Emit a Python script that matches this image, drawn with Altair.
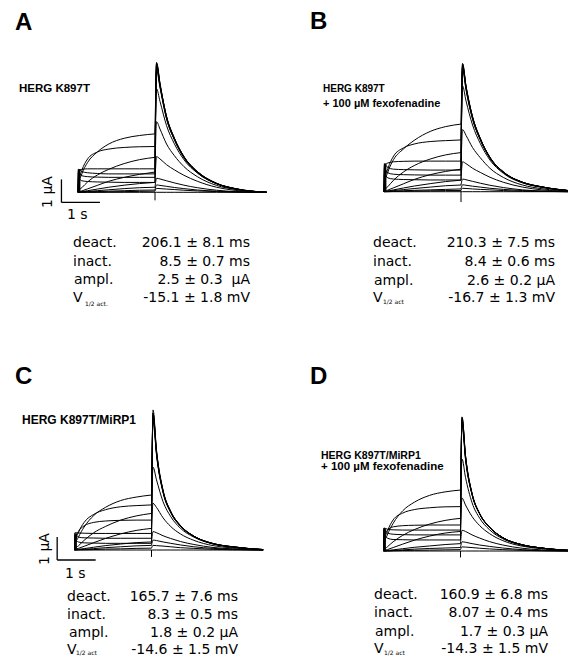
import altair as alt
import pandas as pd

# ---------------- data ----------------
# time grid (s) of the depolarising step and of the tail
STEP_T = [0, 0.01, 0.1, 0.25, 0.5, 0.8, 1.2, 1.6, 2.0]
TAIL_T = [2.0, 2.04, 2.13, 2.3, 2.5, 2.75, 3.1, 3.6, 4.1, 4.9]

# current (µA) of each sweep during the step
A_STEP = [
    [0, 0.60, 0.50, 0.47, 0.45, 0.44, 0.43, 0.43, 0.43],
    [0, 0.85, 0.72, 0.68, 0.66, 0.65, 0.65, 0.65, 0.65],
    [0, 1.00, 0.90, 0.85, 0.82, 0.80, 0.80, 0.80, 0.80],
    [0, 0.95, 1.00, 1.02, 1.02, 1.02, 1.02, 1.02, 1.02],
    [0, 0.40, 0.95, 1.45, 1.75, 1.88, 1.95, 1.98, 1.99],
    [0, 0.30, 0.80, 1.30, 1.75, 2.10, 2.35, 2.47, 2.54],
    [0, 0.05, 0.20, 0.45, 0.75, 1.00, 1.25, 1.42, 1.52],
    [0, 0.02, 0.06, 0.15, 0.30, 0.48, 0.65, 0.78, 0.88],
    [0, 0.01, 0.03, 0.07, 0.14, 0.22, 0.31, 0.38, 0.43],
    [0, 0.01, 0.02, 0.04, 0.07, 0.11, 0.16, 0.20, 0.22],
    [0, 0.00, 0.01, 0.02, 0.03, 0.05, 0.07, 0.09, 0.10],
    [0, 0.00, 0.00, 0.01, 0.01, 0.02, 0.03, 0.04, 0.05],
    [0, 0, 0, 0, 0, 0, 0, 0, 0],
]
A_TAIL = [
    [0.43, 5.45, 4.60, 3.20, 2.30, 1.50, 0.85, 0.37, 0.14, 0],
    [0.65, 5.60, 4.70, 3.28, 2.35, 1.55, 0.88, 0.38, 0.15, 0],
    [0.80, 5.65, 4.74, 3.29, 2.36, 1.55, 0.90, 0.39, 0.15, 0],
    [1.02, 5.60, 4.70, 3.30, 2.37, 1.56, 0.90, 0.39, 0.16, 0],
    [1.99, 5.50, 4.65, 3.25, 2.33, 1.54, 0.90, 0.39, 0.15, 0],
    [2.54, 5.30, 4.55, 3.20, 2.30, 1.52, 0.88, 0.38, 0.15, 0],
    [1.52, 4.50, 3.95, 2.90, 2.12, 1.42, 0.84, 0.37, 0.14, 0],
    [0.88, 3.07, 2.75, 2.10, 1.60, 1.12, 0.68, 0.30, 0.12, 0],
    [0.43, 1.55, 1.45, 1.20, 0.98, 0.74, 0.48, 0.22, 0.08, 0],
    [0.22, 0.61, 0.58, 0.50, 0.41, 0.31, 0.20, 0.09, 0.03, 0],
    [0.10, 0.32, 0.30, 0.26, 0.21, 0.16, 0.10, 0.05, 0.02, 0],
    [0.05, 0.17, 0.16, 0.14, 0.12, 0.09, 0.06, 0.03, 0.01, 0],
    [0, 0, 0, 0, 0, 0, 0, 0, 0, 0],
]

B_STEP = [
    [0, 0.75, 0.60, 0.55, 0.53, 0.52, 0.51, 0.51, 0.51],
    [0, 1.00, 0.82, 0.76, 0.74, 0.73, 0.72, 0.72, 0.72],
    [0, 1.20, 1.05, 0.98, 0.96, 0.95, 0.94, 0.94, 0.94],
    [0, 1.10, 1.25, 1.30, 1.32, 1.33, 1.33, 1.33, 1.33],
    [0, 0.45, 1.00, 1.55, 1.90, 2.08, 2.18, 2.22, 2.25],
    [0, 0.30, 0.85, 1.40, 1.85, 2.25, 2.62, 2.83, 2.94],
    [0, 0.05, 0.22, 0.50, 0.85, 1.15, 1.42, 1.60, 1.70],
    [0, 0.02, 0.07, 0.17, 0.34, 0.54, 0.74, 0.88, 0.98],
    [0, 0.01, 0.03, 0.08, 0.16, 0.25, 0.35, 0.44, 0.50],
    [0, 0.01, 0.02, 0.05, 0.09, 0.14, 0.20, 0.26, 0.29],
    [0, 0.00, 0.01, 0.02, 0.04, 0.06, 0.08, 0.10, 0.12],
    [0, 0.00, 0.00, 0.01, 0.02, 0.03, 0.04, 0.05, 0.05],
    [0, 0, 0, 0, 0, 0, 0, 0, 0],
]
B_TAIL = [
    [0.51, 5.40, 4.45, 3.15, 2.25, 1.46, 0.84, 0.40, 0.20, 0.03],
    [0.72, 5.50, 4.55, 3.22, 2.30, 1.48, 0.85, 0.41, 0.21, 0.03],
    [0.94, 5.58, 4.60, 3.26, 2.32, 1.50, 0.86, 0.41, 0.21, 0.03],
    [1.33, 5.55, 4.60, 3.26, 2.32, 1.50, 0.86, 0.41, 0.21, 0.03],
    [2.25, 5.45, 4.55, 3.24, 2.30, 1.49, 0.86, 0.41, 0.21, 0.03],
    [2.94, 5.30, 4.45, 3.18, 2.27, 1.47, 0.85, 0.40, 0.20, 0.03],
    [1.70, 4.60, 3.95, 2.90, 2.10, 1.38, 0.80, 0.38, 0.19, 0.03],
    [0.98, 2.70, 2.45, 1.92, 1.48, 1.02, 0.62, 0.29, 0.13, 0.02],
    [0.50, 1.30, 1.22, 1.02, 0.84, 0.63, 0.41, 0.20, 0.08, 0.01],
    [0.29, 0.55, 0.52, 0.45, 0.37, 0.28, 0.18, 0.08, 0.03, 0],
    [0.12, 0.30, 0.28, 0.24, 0.20, 0.15, 0.10, 0.05, 0.02, 0],
    [0.05, 0.15, 0.14, 0.12, 0.10, 0.08, 0.05, 0.02, 0.01, 0],
    [0, 0, 0, 0, 0, 0, 0, 0, 0, 0],
]

C_STEP = [
    [0, 0.45, 0.35, 0.31, 0.30, 0.29, 0.29, 0.29, 0.29],
    [0, 0.65, 0.56, 0.53, 0.52, 0.51, 0.51, 0.51, 0.51],
    [0, 0.75, 0.74, 0.73, 0.72, 0.72, 0.72, 0.72, 0.72],
    [0, 0.45, 0.80, 1.05, 1.20, 1.26, 1.29, 1.30, 1.30],
    [0, 0.30, 0.75, 1.20, 1.55, 1.75, 1.88, 1.93, 1.96],
    [0, 0.20, 0.55, 1.00, 1.50, 1.85, 2.15, 2.30, 2.39],
    [0, 0.05, 0.18, 0.42, 0.75, 1.02, 1.30, 1.48, 1.59],
    [0, 0.02, 0.07, 0.16, 0.32, 0.50, 0.70, 0.85, 0.94],
    [0, 0.01, 0.03, 0.06, 0.12, 0.19, 0.26, 0.32, 0.35],
    [0, 0.00, 0.01, 0.03, 0.06, 0.10, 0.14, 0.18, 0.20],
    [0, 0.00, 0.01, 0.01, 0.02, 0.04, 0.05, 0.07, 0.08],
    [0, 0, 0, 0, 0, 0, 0, 0, 0],
]
C_TAIL = [
    [0.29, 5.80, 4.15, 2.50, 1.62, 1.03, 0.59, 0.27, 0.13, 0.01],
    [0.51, 5.95, 4.25, 2.55, 1.65, 1.05, 0.60, 0.27, 0.13, 0.01],
    [0.72, 6.09, 4.35, 2.60, 1.68, 1.07, 0.60, 0.28, 0.14, 0.02],
    [1.30, 5.95, 4.30, 2.58, 1.67, 1.06, 0.60, 0.28, 0.14, 0.02],
    [1.96, 5.85, 4.25, 2.56, 1.66, 1.06, 0.60, 0.28, 0.14, 0.02],
    [2.39, 5.60, 4.15, 2.52, 1.64, 1.05, 0.60, 0.28, 0.14, 0.02],
    [1.59, 3.60, 3.05, 2.10, 1.45, 0.95, 0.56, 0.26, 0.13, 0.01],
    [0.94, 2.03, 1.85, 1.40, 1.02, 0.70, 0.42, 0.19, 0.09, 0.01],
    [0.35, 0.80, 0.75, 0.62, 0.50, 0.37, 0.24, 0.11, 0.05, 0],
    [0.20, 0.43, 0.41, 0.35, 0.29, 0.22, 0.14, 0.07, 0.03, 0],
    [0.08, 0.20, 0.19, 0.17, 0.14, 0.10, 0.07, 0.03, 0.01, 0],
    [0, 0, 0, 0, 0, 0, 0, 0, 0, 0],
]

D_STEP = [
    [0, 0.70, 0.56, 0.50, 0.49, 0.48, 0.48, 0.48, 0.48],
    [0, 0.95, 0.78, 0.73, 0.71, 0.70, 0.70, 0.70, 0.70],
    [0, 1.00, 0.95, 0.92, 0.91, 0.91, 0.91, 0.91, 0.91],
    [0, 0.60, 0.90, 1.05, 1.10, 1.12, 1.13, 1.13, 1.13],
    [0, 0.35, 0.85, 1.35, 1.65, 1.80, 1.88, 1.92, 1.93],
    [0, 0.25, 0.70, 1.20, 1.75, 2.12, 2.42, 2.57, 2.65],
    [0, 0.05, 0.18, 0.40, 0.68, 0.93, 1.17, 1.33, 1.42],
    [0, 0.02, 0.06, 0.15, 0.30, 0.47, 0.65, 0.78, 0.85],
    [0, 0.01, 0.02, 0.05, 0.10, 0.16, 0.22, 0.28, 0.32],
    [0, 0.00, 0.01, 0.02, 0.05, 0.08, 0.11, 0.13, 0.15],
    [0, 0.00, 0.00, 0.01, 0.02, 0.03, 0.04, 0.05, 0.06],
    [0, 0, 0, 0, 0, 0, 0, 0, 0],
]
D_TAIL = [
    [0.48, 5.60, 4.00, 2.45, 1.60, 1.03, 0.57, 0.27, 0.13, 0.02],
    [0.70, 5.75, 4.10, 2.48, 1.61, 1.04, 0.58, 0.27, 0.13, 0.02],
    [0.91, 5.83, 4.15, 2.50, 1.62, 1.05, 0.58, 0.27, 0.13, 0.02],
    [1.13, 5.80, 4.15, 2.50, 1.62, 1.05, 0.58, 0.27, 0.13, 0.02],
    [1.93, 5.70, 4.10, 2.48, 1.61, 1.04, 0.58, 0.27, 0.13, 0.02],
    [2.65, 5.50, 4.00, 2.45, 1.60, 1.03, 0.57, 0.27, 0.13, 0.02],
    [1.42, 4.00, 3.20, 2.10, 1.42, 0.93, 0.53, 0.25, 0.12, 0.01],
    [0.85, 2.30, 2.00, 1.50, 1.10, 0.76, 0.45, 0.21, 0.10, 0.01],
    [0.32, 0.90, 0.85, 0.70, 0.56, 0.41, 0.26, 0.12, 0.05, 0],
    [0.15, 0.40, 0.38, 0.32, 0.26, 0.20, 0.13, 0.06, 0.02, 0],
    [0.06, 0.18, 0.17, 0.15, 0.12, 0.09, 0.06, 0.03, 0.01, 0],
    [0, 0, 0, 0, 0, 0, 0, 0, 0, 0],
]

# capacitive artefact below baseline at the end of the step (µA)
ARTIFACT_LOW = {"A": -0.35, "B": -0.45, "C": -0.3, "D": -0.28}
# thick capacitive bar at the start of the step (µA)
ONSET_BAR = {"A": 1.0, "B": 1.23, "C": 0.72, "D": 0.99}

# scale bars: 1 s and 1 µA (t from, t to, I from, I to)
SCALE_A = [-0.43, 0.57, -0.44, 0.56]
SCALE_C = [-0.45, 0.55, -0.435, 0.565]

# text
LETTERS = ["A", "B", "C", "D"]
COND_A = ["HERG K897T"]
COND_B = ["HERG K897T", "+ 100 µM fexofenadine"]
COND_C = ["HERG K897T/MiRP1"]
COND_D = ["HERG K897T/MiRP1", "+ 100 µM fexofenadine"]
STAT_LABELS = ["deact.", "inact.", "ampl.", "V"]
SUB_A = "1/2 act."
SUB_OTHER = "1/2 act"
VALUES_A = ["206.1 ± 8.1 ms", "8.5 ± 0.7 ms", "2.5 ± 0.3\u00a0 µA", "-15.1 ± 1.8 mV"]
VALUES_B = ["210.3 ± 7.5 ms", "8.4 ± 0.6 ms", "2.6 ± 0.2 µA", "-16.7 ± 1.3 mV"]
VALUES_C = ["165.7 ± 7.6 ms", "8.3 ± 0.5 ms", "1.8 ± 0.2 µA", "-14.6 ± 1.5 mV"]
VALUES_D = ["160.9 ± 6.8 ms", "8.07 ± 0.4 ms", "1.7 ± 0.3 µA", "-14.3 ± 1.5 mV"]
BAR_LABELS = ["1 µA", "1 s"]

# ---------------- drawing ----------------
PX_PER_S = 38.5
PX_PER_UA = 23.0
SANS = "Liberation Sans, Arial, Helvetica, sans-serif"
WIDE = "DejaVu Sans, Verdana, sans-serif"


def traces_df(step, tail):
    rows = []
    for k, (s, tl) in enumerate(zip(step, tail)):
        for t, v in zip(STEP_T, s):
            rows.append({"t": t, "i": v, "key": f"{k}s"})
        for t, v in zip(TAIL_T, tl):
            rows.append({"t": t, "i": v, "key": f"{k}t"})
    return pd.DataFrame(rows)


def txt(text, x, y, size, font=WIDE, bold=False, align="left", angle=0):
    return alt.Chart(pd.DataFrame({"label": [text]})).mark_text(
        align=align, baseline="middle", fontSize=size, font=font,
        fontWeight="bold" if bold else "normal", angle=angle, color="black"
    ).encode(x=alt.value(x), y=alt.value(y), text="label:N")


def panel(step, tail, art, onset, origin, W, H, scale=None, texts=()):
    ox, oy = origin
    xs = alt.Scale(domain=[-ox / PX_PER_S, (W - ox) / PX_PER_S], nice=False, zero=False)
    ys = alt.Scale(domain=[(oy - H) / PX_PER_UA, oy / PX_PER_UA], nice=False, zero=False)
    lines = alt.Chart(traces_df(step, tail)).mark_line(
        color="black", strokeWidth=1.0, interpolate="monotone", clip=True
    ).encode(
        x=alt.X("t:Q", scale=xs, axis=None),
        y=alt.Y("i:Q", scale=ys, axis=None),
        detail="key:N",
    )
    artifact = alt.Chart(pd.DataFrame({"t": [STEP_T[-1]], "lo": [art], "hi": [0.0]})).mark_rule(
        color="black", strokeWidth=1
    ).encode(x=alt.X("t:Q", scale=xs, axis=None), y=alt.Y("lo:Q", scale=ys, axis=None), y2="hi:Q")
    onset_bar = alt.Chart(pd.DataFrame({"t": [0.03], "lo": [0.0], "hi": [onset]})).mark_rule(
        color="black", strokeWidth=2.5
    ).encode(x=alt.X("t:Q", scale=xs, axis=None), y=alt.Y("lo:Q", scale=ys, axis=None), y2="hi:Q")
    layers = [lines, artifact, onset_bar]
    if scale is not None:
        sdf = pd.DataFrame({"t0": [scale[0]], "t1": [scale[1]], "i0": [scale[2]], "i1": [scale[3]]})
        vbar = alt.Chart(sdf).mark_rule(color="black", strokeWidth=1.3).encode(
            x=alt.X("t0:Q", scale=xs, axis=None), y=alt.Y("i0:Q", scale=ys, axis=None), y2="i1:Q")
        hbar = alt.Chart(sdf).mark_rule(color="black", strokeWidth=1.3).encode(
            x=alt.X("t0:Q", scale=xs, axis=None), x2="t1:Q", y=alt.Y("i0:Q", scale=ys, axis=None))
        layers += [vbar, hbar]
    layers += list(texts)
    return alt.layer(*layers).properties(width=W, height=H)


def stats(labels_x, ampl_x, rows_y, values_right, values, sub, sub_x, sub_y):
    out = []
    for k, lab in enumerate(STAT_LABELS):
        lx = ampl_x if lab == "ampl." else labels_x
        out.append(txt(lab, lx, rows_y[k], 14))
        out.append(txt(values[k], values_right, rows_y[k], 14, align="right"))
    out.append(txt(sub, sub_x, sub_y, 6))
    return out


W = 280
H_TOP = 322
H_BOT = 330

texts_a = [
    txt(LETTERS[0], 7, 15, 24, font=SANS, bold=True),
    txt(COND_A[0], 11, 81, 11.5, font=SANS, bold=True),
    txt(BAR_LABELS[0], 40, 184, 14, align="center", angle=270),
    txt(BAR_LABELS[1], 59, 207, 14),
] + stats(65, 66, [235, 254, 272, 290], 242, VALUES_A, SUB_A, 77, 296)

texts_b = [
    txt(LETTERS[1], 22, 14, 24, font=SANS, bold=True),
    txt(COND_B[0], 35, 81, 10, font=SANS, bold=True),
    txt(COND_B[1], 35, 96, 11, font=SANS, bold=True),
] + stats(85, 86, [235, 254, 273, 290], 267, VALUES_B, SUB_OTHER, 95, 294)

texts_c = [
    txt(LETTERS[2], 7, 47, 24, font=SANS, bold=True),
    txt(COND_C[0], 14, 90, 12, font=SANS, bold=True),
    txt(BAR_LABELS[0], 37, 219, 14, align="center", angle=270),
    txt(BAR_LABELS[1], 57, 244, 14),
] + stats(59, 61, [267, 285, 303, 320], 230, VALUES_C, SUB_OTHER, 68, 323)

texts_d = [
    txt(LETTERS[3], 22, 47, 24, font=SANS, bold=True),
    txt(COND_D[0], 33, 126, 10.5, font=SANS, bold=True),
    txt(COND_D[1], 33, 137, 11.5, font=SANS, bold=True),
] + stats(86, 87, [265, 283, 302, 319], 260, VALUES_D, SUB_OTHER, 96, 323)

pA = panel(A_STEP, A_TAIL, ARTIFACT_LOW["A"], ONSET_BAR["A"], (70, 184.3), W, H_TOP, SCALE_A, texts_a)
pB = panel(B_STEP, B_TAIL, ARTIFACT_LOW["B"], ONSET_BAR["B"], (96, 183.7), W, H_TOP, None, texts_b)
pC = panel(C_STEP, C_TAIL, ARTIFACT_LOW["C"], ONSET_BAR["C"], (66.5, 220), W, H_BOT, SCALE_C, texts_c)
pD = panel(D_STEP, D_TAIL, ARTIFACT_LOW["D"], ONSET_BAR["D"], (95.5, 221), W, H_BOT, None, texts_d)

chart = alt.vconcat(
    alt.hconcat(pA, pB, spacing=0),
    alt.hconcat(pC, pD, spacing=0),
    spacing=0,
).properties(padding=0, background="white").configure_view(stroke=None)

chart.save("out.html", embed_options={"renderer": "svg", "actions": False})
